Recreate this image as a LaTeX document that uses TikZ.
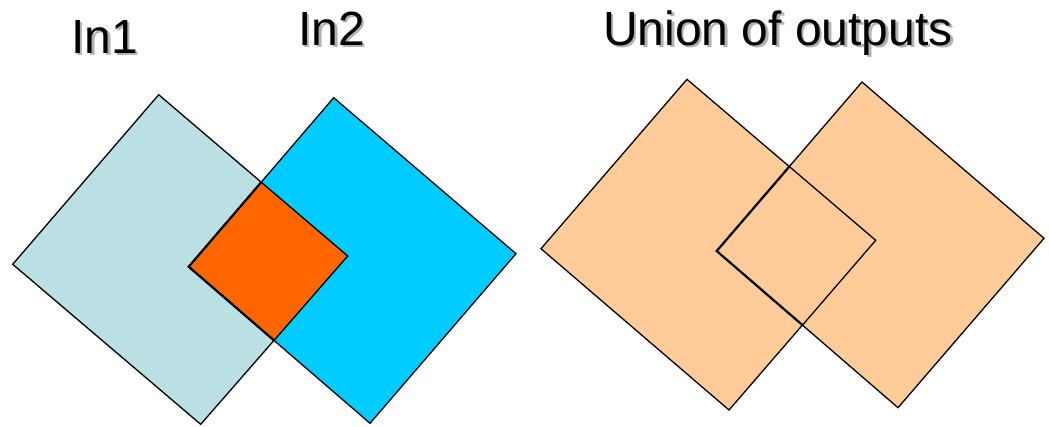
\documentclass[tikz,border=0pt]{standalone}
\usepackage{fontspec}
\setmainfont{Liberation Sans}
\definecolor{inone}{HTML}{BBE0E3}
\definecolor{intwo}{HTML}{00CCFF}
\definecolor{overlap}{HTML}{FF6600}
\definecolor{peach}{HTML}{FFCC99}
\definecolor{shadowgray}{HTML}{B2B2B2}
\tikzset{
  sqshape/.style={draw=black, line width=1.3pt, line join=miter},
  thickedge/.style={line width=2.2pt},
  titletext/.style={anchor=base west, inner sep=0pt, font=\fontsize{48}{52}\selectfont},
}
\newcommand{\shadowed}[1]{%
  \makebox[0pt][l]{\kern2.5pt\raisebox{-2.5pt}{\textcolor{shadowgray}{#1}}}#1}
\begin{document}
\begin{tikzpicture}[x=1pt,y=-1pt]
\useasboundingbox (0,0) rectangle (1049,426);
% left pair
\coordinate (aT) at (158.7,94.7);
\coordinate (aR) at (347.7,256);
\coordinate (aB) at (200.7,424.3);
\coordinate (aL) at (12.7,264.3);
\coordinate (bT) at (333.7,97.7);
\coordinate (bR) at (516,253.7);
\coordinate (bB) at (370,423.3);
\coordinate (bL) at (188.7,266.7);
\coordinate (xT) at (intersection of aT--aR and bL--bT);
\coordinate (xB) at (intersection of aR--aB and bL--bB);
\draw[sqshape, fill=inone] (aT) -- (aR) -- (aB) -- (aL) -- cycle;
\draw[sqshape, fill=intwo] (bT) -- (bR) -- (bB) -- (bL) -- cycle;
\draw[sqshape, fill=overlap] (bL) -- (xT) -- (aR) -- (xB) -- cycle;
\draw[thickedge] (xT) -- (bL) -- (xB);
% right pair
\coordinate (cT) at (687,79.3);
\coordinate (cR) at (875.7,240.3);
\coordinate (cB) at (729,410);
\coordinate (cL) at (541,248.7);
\coordinate (dT) at (862,82);
\coordinate (dR) at (1044,238.3);
\coordinate (dB) at (898,407.7);
\coordinate (dL) at (716.7,251);
\coordinate (yT) at (intersection of cT--cR and dL--dT);
\coordinate (yB) at (intersection of cR--cB and dL--dB);
\draw[sqshape, fill=peach] (cT) -- (cR) -- (cB) -- (cL) -- cycle;
\draw[sqshape, fill=peach] (dT) -- (dR) -- (dB) -- (dL) -- cycle;
\draw[sqshape, fill=peach] (dL) -- (yT) -- (cR) -- (yB) -- cycle;
\draw[thickedge] (yT) -- (dL) -- (yB);
% titles
\node[titletext] (t1) at (71,53) {\shadowed{In1}};
\node[titletext] (t2) at (298,45) {\shadowed{In2}};
\node[titletext] (t3) at (603,45) {\shadowed{Union of outputs}};
\end{tikzpicture}
\end{document}
